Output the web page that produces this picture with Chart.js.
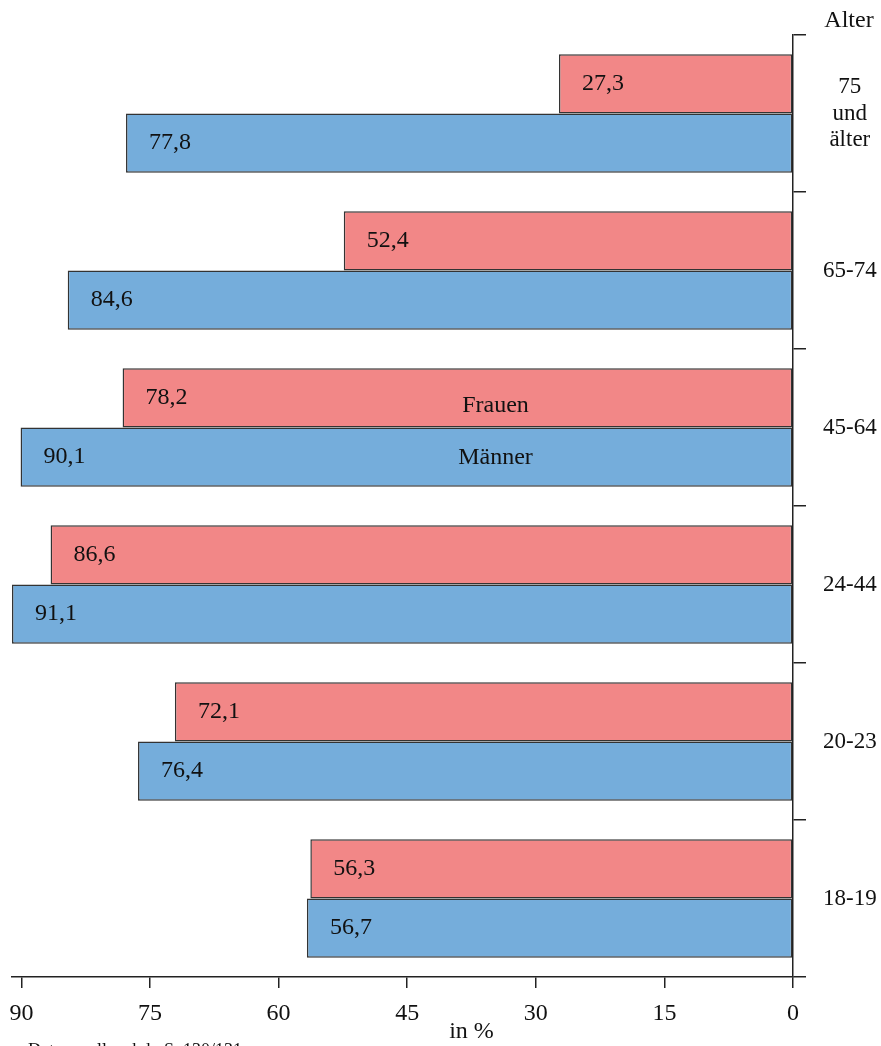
<!DOCTYPE html>
<html>
<head>
<meta charset="utf-8">
<script src="https://cdn.jsdelivr.net/npm/chart.js@4"></script>
<style>
  body { margin: 0; background: #fff; }
  canvas { display: block; }
</style>
</head>
<body>
<canvas id="chart" width="881" height="1046"></canvas>
<script>
const categories = [['75', 'und', 'älter'], '65-74', '45-64', '24-44', '20-23', '18-19'];
const frauen = [27.3, 52.4, 78.2, 86.6, 72.1, 56.3];
const maenner = [77.8, 84.6, 90.1, 91.1, 76.4, 56.7];
const seriesNames = ['Frauen', 'Männer'];
const xTicks = [0, 15, 30, 45, 60, 75, 90];
const legendValue = 34.7;   // where "Frauen"/"Männer" sit inside the 45-64 bars
const legendIndex = 2;
const titleValue = 37.5;    // "in %" sits a bit right of the plot centre

const serif = '"Liberation Serif", "DejaVu Serif", serif';
const ctx = document.getElementById('chart').getContext('2d');

const fmt = v => v.toFixed(1).replace('.', ',');

// value labels near the left end of each bar, plus the in-bar series names
const labelPlugin = {
  id: 'labels',
  afterDatasetsDraw(chart) {
    const c = chart.ctx;
    const xs = chart.scales.x;
    const ys = chart.scales.y;
    c.save();
    c.fillStyle = '#111';
    c.font = '24px ' + serif;
    c.textBaseline = 'middle';
    chart.data.datasets.forEach((ds, di) => {
      const meta = chart.getDatasetMeta(di);
      c.textAlign = 'left';
      meta.data.forEach((bar, i) => {
        c.fillText(fmt(ds.data[i]), bar.x + 23, bar.y);
      });
      const el = meta.data[legendIndex];
      c.textAlign = 'center';
      c.fillText(seriesNames[di], xs.getPixelForValue(legendValue), el.y + (di === 0 ? 8 : 1));
    });

    // axis title under the ticks
    c.textAlign = 'center';
    c.fillText('in %', xs.getPixelForValue(titleValue), 1032);

    // "Alter" above the right axis
    c.textBaseline = 'alphabetic';
    c.fillText('Alter', ys.left + 56, 27);

    // source note, cut by the page edge
    c.textAlign = 'left';
    c.font = '18px ' + serif;
    c.fillText('Datenquelle: ebd., S. 130/131', 28, 1056);
    c.restore();
  }
};

new Chart(ctx, {
  type: 'bar',
  data: {
    labels: categories,
    datasets: [
      {
        label: seriesNames[0],
        data: frauen,
        backgroundColor: '#F28787',
        borderColor: '#333',
        borderWidth: 1.5,
        borderSkipped: false
      },
      {
        label: seriesNames[1],
        data: maenner,
        backgroundColor: '#75ADDB',
        borderColor: '#333',
        borderWidth: 1.5,
        borderSkipped: false
      }
    ]
  },
  options: {
    indexAxis: 'y',
    responsive: false,
    animation: false,
    layout: { padding: { top: 35, left: 12, right: 0, bottom: 0 } },
    datasets: { bar: { categoryPercentage: 0.755, barPercentage: 1.0 } },
    plugins: {
      legend: { display: false },
      tooltip: { enabled: false }
    },
    scales: {
      x: {
        reverse: true,
        min: 0,
        max: 91.1,
        afterBuildTicks: scale => {
          scale.ticks = xTicks.map(v => ({ value: v }));
        },
        afterFit: scale => { scale.height = 69; },
        border: { display: true, color: '#222', width: 1.5 },
        grid: {
          drawOnChartArea: false,
          drawTicks: true,
          tickLength: 11,
          color: '#222',
          lineWidth: 1.5
        },
        ticks: {
          color: '#111',
          font: { family: serif, size: 24 },
          padding: 11,
          maxRotation: 0
        }
      },
      y: {
        position: 'right',
        afterFit: scale => { scale.width = 88; },
        border: { display: true, color: '#222', width: 1.5 },
        grid: {
          offset: true,
          drawOnChartArea: false,
          drawTicks: true,
          tickLength: 13,
          color: '#222',
          lineWidth: 1.5
        },
        ticks: {
          color: '#111',
          font: { family: serif, size: 23, lineHeight: 1.17 },
          crossAlign: 'center',
          padding: 17
        }
      }
    }
  },
  plugins: [labelPlugin]
});
</script>
</body>
</html>
